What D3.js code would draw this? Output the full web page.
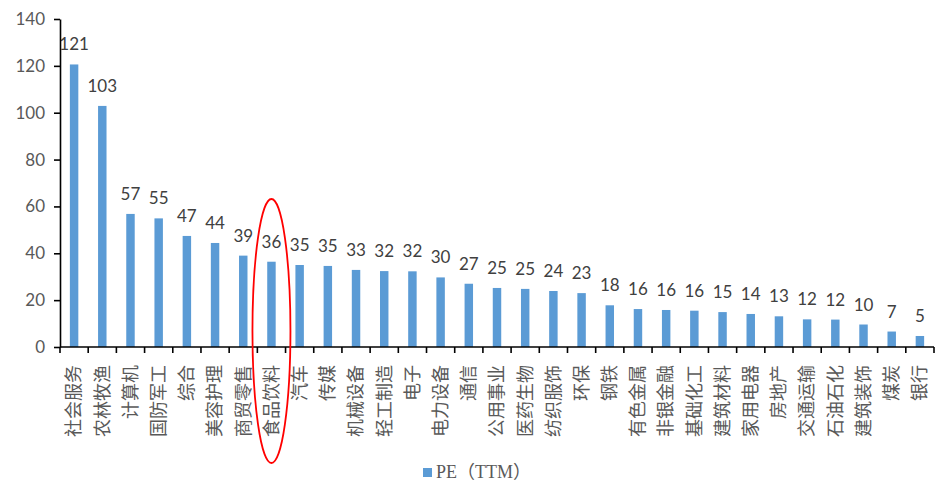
<!DOCTYPE html>
<html>
<head>
<meta charset="utf-8">
<script src="https://cdn.jsdelivr.net/npm/d3@7/dist/d3.min.js"></script>
<style>
  html, body { margin: 0; padding: 0; background: #fff; }
  svg { display: block; }
</style>
</head>
<body>
<svg id="chart" width="943" height="482"></svg>
<script>
// Industry names (Shenwan level-1) and their PE (TTM)
const categories = ["社会服务","农林牧渔","计算机","国防军工","综合","美容护理","商贸零售","食品饮料","汽车","传媒",
  "机械设备","轻工制造","电子","电力设备","通信","公用事业","医药生物","纺织服饰","环保","钢铁",
  "有色金属","非银金融","基础化工","建筑材料","家用电器","房地产","交通运输","石油石化","建筑装饰","煤炭","银行"];
const peValues = [120.6,102.9,56.8,54.9,47.4,44.4,39.0,36.4,35.0,34.6,
  32.9,32.4,32.3,29.7,27.0,25.2,24.8,23.9,23.0,17.8,
  16.2,15.8,15.5,14.9,14.1,13.1,11.8,11.7,9.6,6.6,4.7];
const yTicks = [0,20,40,60,80,100,120,140];
const seriesName = "PE（TTM）";
const highlighted = "食品饮料";

const data = categories.map((c, i) => ({ name: c, value: peValues[i] }));

const svg = d3.select("#chart");
const margin = { left: 60, right: 9, top: 19, bottom: 135 };
const W = 943, H = 482;
const x0 = margin.left, x1 = W - margin.right;
const yBase = H - margin.bottom;

const x = d3.scaleBand()
  .domain(categories)
  .range([x0, x1])
  .paddingInner(0.7)
  .paddingOuter(0.35);

const y = d3.scaleLinear().domain([0, 140]).range([yBase, margin.top]);

const barColor = "#5B9BD5";
const textGray = "#595959";

// bars
svg.append("g").selectAll("rect")
  .data(data)
  .join("rect")
  .attr("x", d => x(d.name))
  .attr("width", x.bandwidth())
  .attr("y", d => y(d.value))
  .attr("height", d => y(0) - y(d.value))
  .attr("fill", barColor);

// value labels
svg.append("g").selectAll("text")
  .data(data)
  .join("text")
  .attr("x", d => x(d.name) + x.bandwidth() / 2)
  .attr("y", d => y(d.value) - 14)
  .attr("text-anchor", "middle")
  .attr("font-family", "Lato, 'Open Sans', sans-serif")
  .attr("font-size", 17)
  .attr("fill", "#404040")
  .text(d => d3.format(".0f")(d.value));

// y axis
const yAxis = svg.append("g")
  .attr("transform", `translate(${x0},0)`)
  .call(d3.axisLeft(y).tickValues(yTicks).tickSize(6).tickSizeOuter(0).tickPadding(9));
yAxis.select(".domain").attr("stroke", "#000").attr("stroke-width", 1.6);
yAxis.selectAll(".tick line").attr("stroke", "#000").attr("stroke-width", 1.6);
yAxis.selectAll(".tick text")
  .attr("font-family", "Lato, 'Open Sans', sans-serif")
  .attr("font-size", 17)
  .attr("fill", textGray);

// x axis: baseline plus ticks at category boundaries
const xAxis = svg.append("g");
xAxis.append("line")
  .attr("x1", x0).attr("x2", x1)
  .attr("y1", y(0)).attr("y2", y(0))
  .attr("stroke", "#000").attr("stroke-width", 1.6);
xAxis.selectAll("line.bound")
  .data(d3.range(categories.length + 1))
  .join("line")
  .attr("class", "bound")
  .attr("x1", i => x0 + i * x.step())
  .attr("x2", i => x0 + i * x.step())
  .attr("y1", y(0))
  .attr("y2", y(0) + 6)
  .attr("stroke", "#000").attr("stroke-width", 1.6);

// vertical category labels
svg.append("g").selectAll("text")
  .data(categories)
  .join("text")
  .attr("transform", c => `translate(${x(c) + x.bandwidth() / 2},${y(0) + 18}) rotate(-90)`)
  .attr("text-anchor", "end")
  .attr("dy", "0.35em")
  .attr("font-family", "'Noto Sans CJK SC', sans-serif")
  .attr("font-size", 18)
  .attr("fill", textGray)
  .text(c => c);

// highlight ellipse around one industry
const hx = x(highlighted) + x.bandwidth() / 2;
svg.append("ellipse")
  .attr("cx", hx)
  .attr("cy", 331)
  .attr("rx", 19)
  .attr("ry", 132)
  .attr("fill", "none")
  .attr("stroke", "#FF0000")
  .attr("stroke-width", 1.8);

// legend
const legend = svg.append("g").attr("transform", "translate(423,468)");
legend.append("rect")
  .attr("width", 9).attr("height", 9)
  .attr("fill", barColor);
legend.append("text")
  .attr("x", 13)
  .attr("y", 9.5)
  .attr("font-family", "'Liberation Serif', 'Noto Sans CJK SC', serif")
  .attr("font-size", 18)
  .attr("fill", textGray)
  .text(seriesName);
</script>
</body>
</html>
